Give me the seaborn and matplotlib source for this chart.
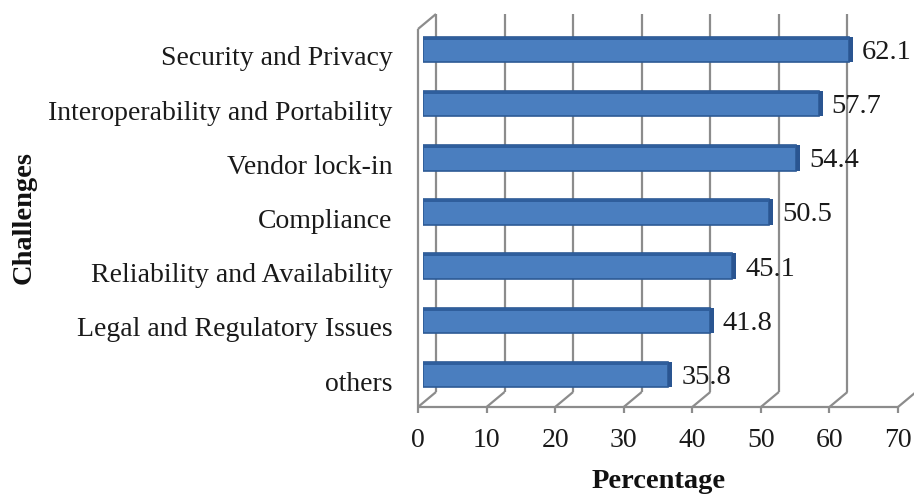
import matplotlib
matplotlib.use("Agg")
import matplotlib.pyplot as plt
import seaborn as sns
import pandas as pd
from matplotlib.transforms import ScaledTranslation
from matplotlib.patches import Rectangle

# Survey results: challenges and the share of respondents citing them
categories = [
    "Security and Privacy",
    "Interoperability and Portability",
    "Vendor lock-in",
    "Compliance",
    "Reliability and Availability",
    "Legal and Regulatory Issues",
    "others",
]
percentages = [62.1, 57.7, 54.4, 50.5, 45.1, 41.8, 35.8]
x_ticks = [0, 10, 20, 30, 40, 50, 60, 70]

sns.set_theme(style="white")
plt.rcParams["font.family"] = ["Liberation Serif", "DejaVu Serif"]

W, H = 914, 495
fig = plt.figure(figsize=(W / 100, H / 100), dpi=100)

# plotting plane of the bars (pixels)
left_px, right_px = 423, 903
top_px, bottom_px = 25, 403
ax = fig.add_axes([left_px / W, 1 - bottom_px / H,
                   (right_px - left_px) / W, (bottom_px - top_px) / H])

df = pd.DataFrame({"Challenge": categories, "Percentage": percentages})
sns.barplot(data=df, x="Percentage", y="Challenge", orient="h",
            color="#4A7EBF", saturation=1, width=0.47, ax=ax,
            edgecolor="#2D5A95", linewidth=1.2, zorder=3)

y_top, y_floor = -0.452, 6.526
ax.set_xlim(0, 70)
ax.set_ylim(y_floor, y_top)
for s in ax.spines.values():
    s.set_visible(False)
ax.set_facecolor("none")

ppx = (right_px - left_px) / 70.0
ppy = (bottom_px - top_px) / (y_floor - y_top)


def P(x, y, dx, dy):
    """Data point shifted by a pixel offset (dy positive = downward)."""
    return (x + dx / ppx, y + dy / ppy)


FRONT = (-5, 4)
BACK = (13, -11)
grid_kw = dict(color="#8C8C8C", lw=1.6, clip_on=False, zorder=1,
               solid_capstyle="butt")


def seg(a, b, **kw):
    ax.plot([a[0], b[0]], [a[1], b[1]], **kw)


# back wall gridlines and floor diagonals
for t in x_ticks:
    seg(P(t, y_floor, *BACK), P(t, y_top, *BACK), **grid_kw)
    seg(P(t, y_floor, *FRONT), P(t, y_floor, *BACK), **grid_kw)
    seg(P(t, y_floor, *FRONT), P(t, y_floor, FRONT[0], FRONT[1] + 6), **grid_kw)
# front floor edge and left wall
seg(P(0, y_floor, *FRONT), P(70, y_floor, *FRONT), **grid_kw)
seg(P(0, y_floor, *FRONT), P(0, y_top, *FRONT), **grid_kw)
seg(P(0, y_top, *FRONT), P(0, y_top, *BACK), **grid_kw)

# shaded end caps and value labels
bar_h = 0.47
for i, v in enumerate(percentages):
    ax.add_patch(Rectangle((v, i - bar_h / 2), 4 / ppx, bar_h,
                           facecolor="#2A5591", edgecolor="none",
                           zorder=4, clip_on=False))
    ax.add_patch(Rectangle((0, i - bar_h / 2), v, 3 / ppy,
                           facecolor="#2F5E9C", edgecolor="none",
                           zorder=4, clip_on=False))
    ax.text(v + 13 / ppx, i + 3 / ppy, f"{v}", ha="left", va="center",
            fontsize=20.5, color="#1A1A1A", zorder=5, clip_on=False)

# axis ticks and labels
ax.set_xticks(x_ticks)
ax.set_xticklabels([str(t) for t in x_ticks])
ax.set_yticks(range(len(categories)))
ax.set_yticklabels(categories)
ax.tick_params(axis="x", length=0, pad=18, labelsize=20, colors="#1A1A1A")
ax.tick_params(axis="y", length=0, pad=22, labelsize=20, colors="#1A1A1A")
for lbl in ax.get_xticklabels():
    lbl.set_transform(lbl.get_transform() +
                      ScaledTranslation(-5 / 100, 0, fig.dpi_scale_trans))
for lbl in ax.get_yticklabels():
    lbl.set_transform(lbl.get_transform() +
                      ScaledTranslation(0, -6.5 / 100, fig.dpi_scale_trans))

ax.set_xlabel("")
ax.set_ylabel("")
fig.text(659 / W, 1 - 482 / H, "Percentage", ha="center", va="center",
         fontsize=20.5, fontweight="bold", color="#111111")
fig.text(24 / W, 1 - 218 / H, "Challenges", ha="center", va="center",
         rotation=90, fontsize=20.5, fontweight="bold", color="#111111")

fig.savefig("out.png", dpi=100)
